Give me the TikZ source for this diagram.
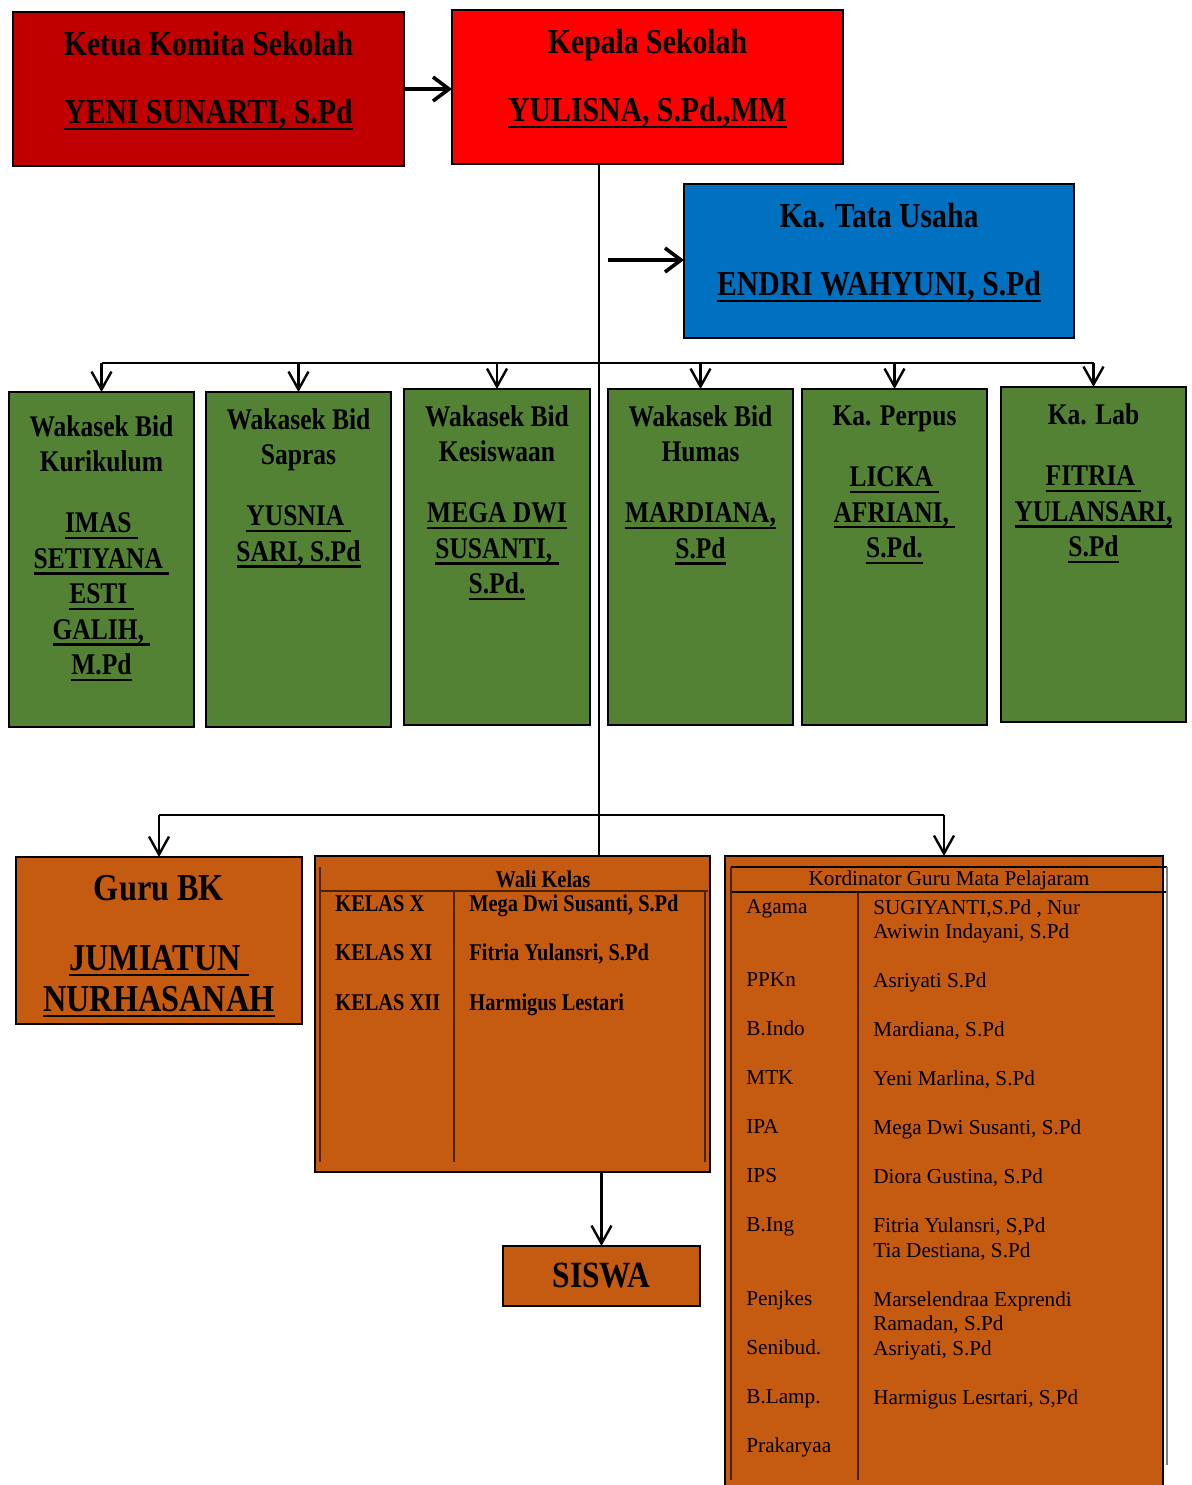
\documentclass[tikz,border=0pt]{standalone}
\usepackage{fontspec}
\setmainfont{Liberation Serif}
\newfontfamily\hdfont{Liberation Serif}[FakeStretch=0.85]
\usetikzlibrary{positioning}
\usetikzlibrary{arrows.meta}

\definecolor{komitered}{HTML}{C00000}
\definecolor{kepalared}{HTML}{FF0000}
\definecolor{tublue}{HTML}{0070C0}
\definecolor{wakagreen}{HTML}{548235}
\definecolor{kelasorange}{HTML}{C55A11}
\definecolor{gridbrown}{HTML}{4A2308}

\newcommand{\ulname}[1]{\leavevmode\setbox0\hbox{#1}\rlap{\rule[-3.2pt]{\wd0}{1.2pt}}\box0}

\tikzset{
  orgbox/.style={draw, line width=1.4pt, inner sep=0pt, outer sep=0pt},
  toptxt/.style={align=center, inner sep=0pt, font=\hdfont\bfseries\fontsize{17.5}{34}\selectfont},
  wktxt/.style={align=center, inner sep=0pt, font=\hdfont\bfseries\fontsize{15}{17.75}\selectfont},
  conn/.style={line width=1.2pt},
  downarr/.style={line width=1.2pt, -{Straight Barb[length=9pt,width=10pt,line width=1.2pt]}},
  sidearr/.style={line width=1.8pt, -{Straight Barb[length=8pt,width=12pt,line width=1.8pt]}},
  gridline/.style={draw=gridbrown, line width=0.6pt},
  wktbl/.style={inner sep=0pt, font=\hdfont\bfseries\fontsize{12}{14}\selectfont},
  kortbl/.style={inner sep=0pt, align=left, font=\fontsize{10.6}{12.25}\selectfont}
}

\begin{document}
\begin{tikzpicture}[x=0.5pt,y=-0.5pt]
  \useasboundingbox (0,0) rectangle (1192,1485);

  % pimpinan
  \node[orgbox, fill=komitered, minimum width=195.5pt, minimum height=77pt] (kom) at (208.5,89) {};
  \node[toptxt, below=9.5pt of kom.north] (komtxt) {Ketua Komita Sekolah\\\ulname{YENI SUNARTI, S.Pd}};
  \node[orgbox, fill=kepalared, minimum width=195.5pt, minimum height=77pt] (kep) at (647.5,87) {};
  \node[toptxt, below=9.5pt of kep.north] (keptxt) {Kepala Sekolah\\\ulname{YULISNA, S.Pd.,MM}};
  \node[orgbox, fill=tublue, minimum width=195pt, minimum height=77pt] (tu) at (879,261) {};
  \node[toptxt, below=9.5pt of tu.north] (tutxt) {Ka. Tata Usaha\\\ulname{ENDRI WAHYUNI, S.Pd}};

  % wakasek dan kepala unit
  \node[orgbox, fill=wakagreen, minimum width=92.5pt, minimum height=167.5pt] (w1) at (101.5,559.5) {};
  \node[orgbox, fill=wakagreen, minimum width=92.5pt, minimum height=167.5pt] (w2) at (298.5,559.5) {};
  \node[orgbox, fill=wakagreen, minimum width=93pt, minimum height=168pt] (w3) at (497,557) {};
  \node[orgbox, fill=wakagreen, minimum width=92.5pt, minimum height=168pt] (w4) at (700.5,557) {};
  \node[orgbox, fill=wakagreen, minimum width=92.5pt, minimum height=168pt] (w5) at (894.5,557) {};
  \node[orgbox, fill=wakagreen, minimum width=92.5pt, minimum height=167.5pt] (w6) at (1093.5,554.5) {};
  \node[wktxt, below=11.5pt of w1.north] (w1txt) {Wakasek Bid\\Kurikulum\\[12.75pt]\ulname{IMAS\ }\\\ulname{SETIYANA\ }\\\ulname{ESTI\ }\\\ulname{GALIH,\ }\\\ulname{M.Pd}};
  \node[wktxt, below=8pt of w2.north] (w2txt) {Wakasek Bid\\Sapras\\[12.75pt]\ulname{YUSNIA\ }\\\ulname{SARI, S.Pd}};
  \node[wktxt, below=8pt of w3.north] (w3txt) {Wakasek Bid\\Kesiswaan\\[12.75pt]\ulname{MEGA DWI}\\\ulname{SUSANTI,\ }\\\ulname{S.Pd.}};
  \node[wktxt, below=8pt of w4.north] (w4txt) {Wakasek Bid\\Humas\\[12.75pt]\ulname{MARDIANA,}\\\ulname{S.Pd}};
  \node[wktxt, below=8pt of w5.north] (w5txt) {Ka. Perpus\\[13pt]\ulname{LICKA\ }\\\ulname{AFRIANI,\ }\\\ulname{S.Pd.}};
  \node[wktxt, below=8pt of w6.north] (w6txt) {Ka. Lab\\[13pt]\ulname{FITRIA\ }\\\ulname{YULANSARI,}\\\ulname{S.Pd}};

  % guru bk
  \node[orgbox, fill=kelasorange, minimum width=143pt, minimum height=83.5pt] (bk) at (159,940.5) {};
  \node[align=center, inner sep=0pt, font=\hdfont\bfseries\fontsize{19}{20.5}\selectfont, below=8.75pt of bk.north] (bktxt) {Guru BK\\[14.5pt]\ulname{JUMIATUN\ }\\\ulname{NURHASANAH}};

  % wali kelas
  \node[orgbox, fill=kelasorange, minimum width=197.5pt, minimum height=158pt] (wali) at (512.5,1014) {};
  \draw[gridline] (320,867) -- (320,1162) (320,891) -- (708,891) (454,891) -- (454,1162) (705,891) -- (705,1162);
  \node[wktbl] (walihead) at (543,879) {Wali Kelas};
  \node[wktbl, anchor=base west] (k10) at (335,911) {KELAS X};
  \node[wktbl, anchor=base west] (k11) at (335,960) {KELAS XI};
  \node[wktbl, anchor=base west] (k12) at (335,1010) {KELAS XII};
  \node[wktbl, anchor=base west] (k10wali) at (469,911) {Mega Dwi Susanti, S.Pd};
  \node[wktbl, anchor=base west] (k11wali) at (469,960) {Fitria Yulansri, S.Pd};
  \node[wktbl, anchor=base west] (k12wali) at (469,1010) {Harmigus Lestari};

  % siswa
  \node[orgbox, fill=kelasorange, minimum width=98.5pt, minimum height=30pt, font=\hdfont\bfseries\fontsize{18.5}{20}\selectfont] (siswa) at (601.5,1276) {SISWA};

  % koordinator mapel
  \node[orgbox, fill=kelasorange, minimum width=219pt, minimum height=322pt] (kor) at (944,1178) {};
  \draw[line width=0.6pt] (731,867) -- (1167,867) (731,892) -- (1167,892);
  \draw[gridline] (731,867) -- (731,1480) (858,892) -- (858,1480);
  \draw[gray, line width=0.8pt] (1167,867) -- (1167,1465);
  \node[kortbl] (korhead) at (949,880) {Kordinator Guru Mata Pelajaram};
  \node[kortbl, anchor=north west] (korsubj) at (746,899) {Agama\\[24.5pt]PPKn\\[12.25pt]B.Indo\\[12.25pt]MTK\\[12.25pt]IPA\\[12.25pt]IPS\\[12.25pt]B.Ing\\[24.5pt]Penjkes\\[12.25pt]Senibud.\\[12.25pt]B.Lamp.\\[12.25pt]Prakaryaa};
  \node[kortbl, anchor=north west] (korguru) at (873,899) {SUGIYANTI,S.Pd , Nur\\Awiwin Indayani, S.Pd\\[12.25pt]Asriyati S.Pd\\[12.25pt]Mardiana, S.Pd\\[12.25pt]Yeni Marlina, S.Pd\\[12.25pt]Mega Dwi Susanti, S.Pd\\[12.25pt]Diora Gustina, S.Pd\\[12.25pt]Fitria Yulansri, S,Pd\\Tia Destiana, S.Pd\\[12.25pt]Marselendraa Exprendi\\Ramadan, S.Pd\\Asriyati, S.Pd\\[12.25pt]Harmigus Lesrtari, S,Pd};

  % garis komando
  \draw[sidearr] (kom.east) -- (kom.east -| kep.west);
  \coordinate (trunk) at (599,164);
  \draw[conn] (trunk) -- (trunk |- wali.north);
  \coordinate (tuin) at (608,260);
  \draw[sidearr] (tuin) -- (tuin -| tu.west);
  \coordinate (bus) at (599,363);
  \draw[conn] (w1.north |- bus) -- (w6.north |- bus);
  \foreach \w in {w1,w2,w3,w4,w5,w6}
    \draw[downarr] (\w.north |- bus) -- (\w.north);
  \coordinate (bus2) at (599,815);
  \draw[conn] (bk.north |- bus2) -- (kor.north |- bus2);
  \draw[downarr] (bk.north |- bus2) -- (bk.north);
  \draw[downarr] (kor.north |- bus2) -- (kor.north);
  \draw[downarr] (siswa.north |- wali.south) -- (siswa.north);
\end{tikzpicture}
\end{document}
